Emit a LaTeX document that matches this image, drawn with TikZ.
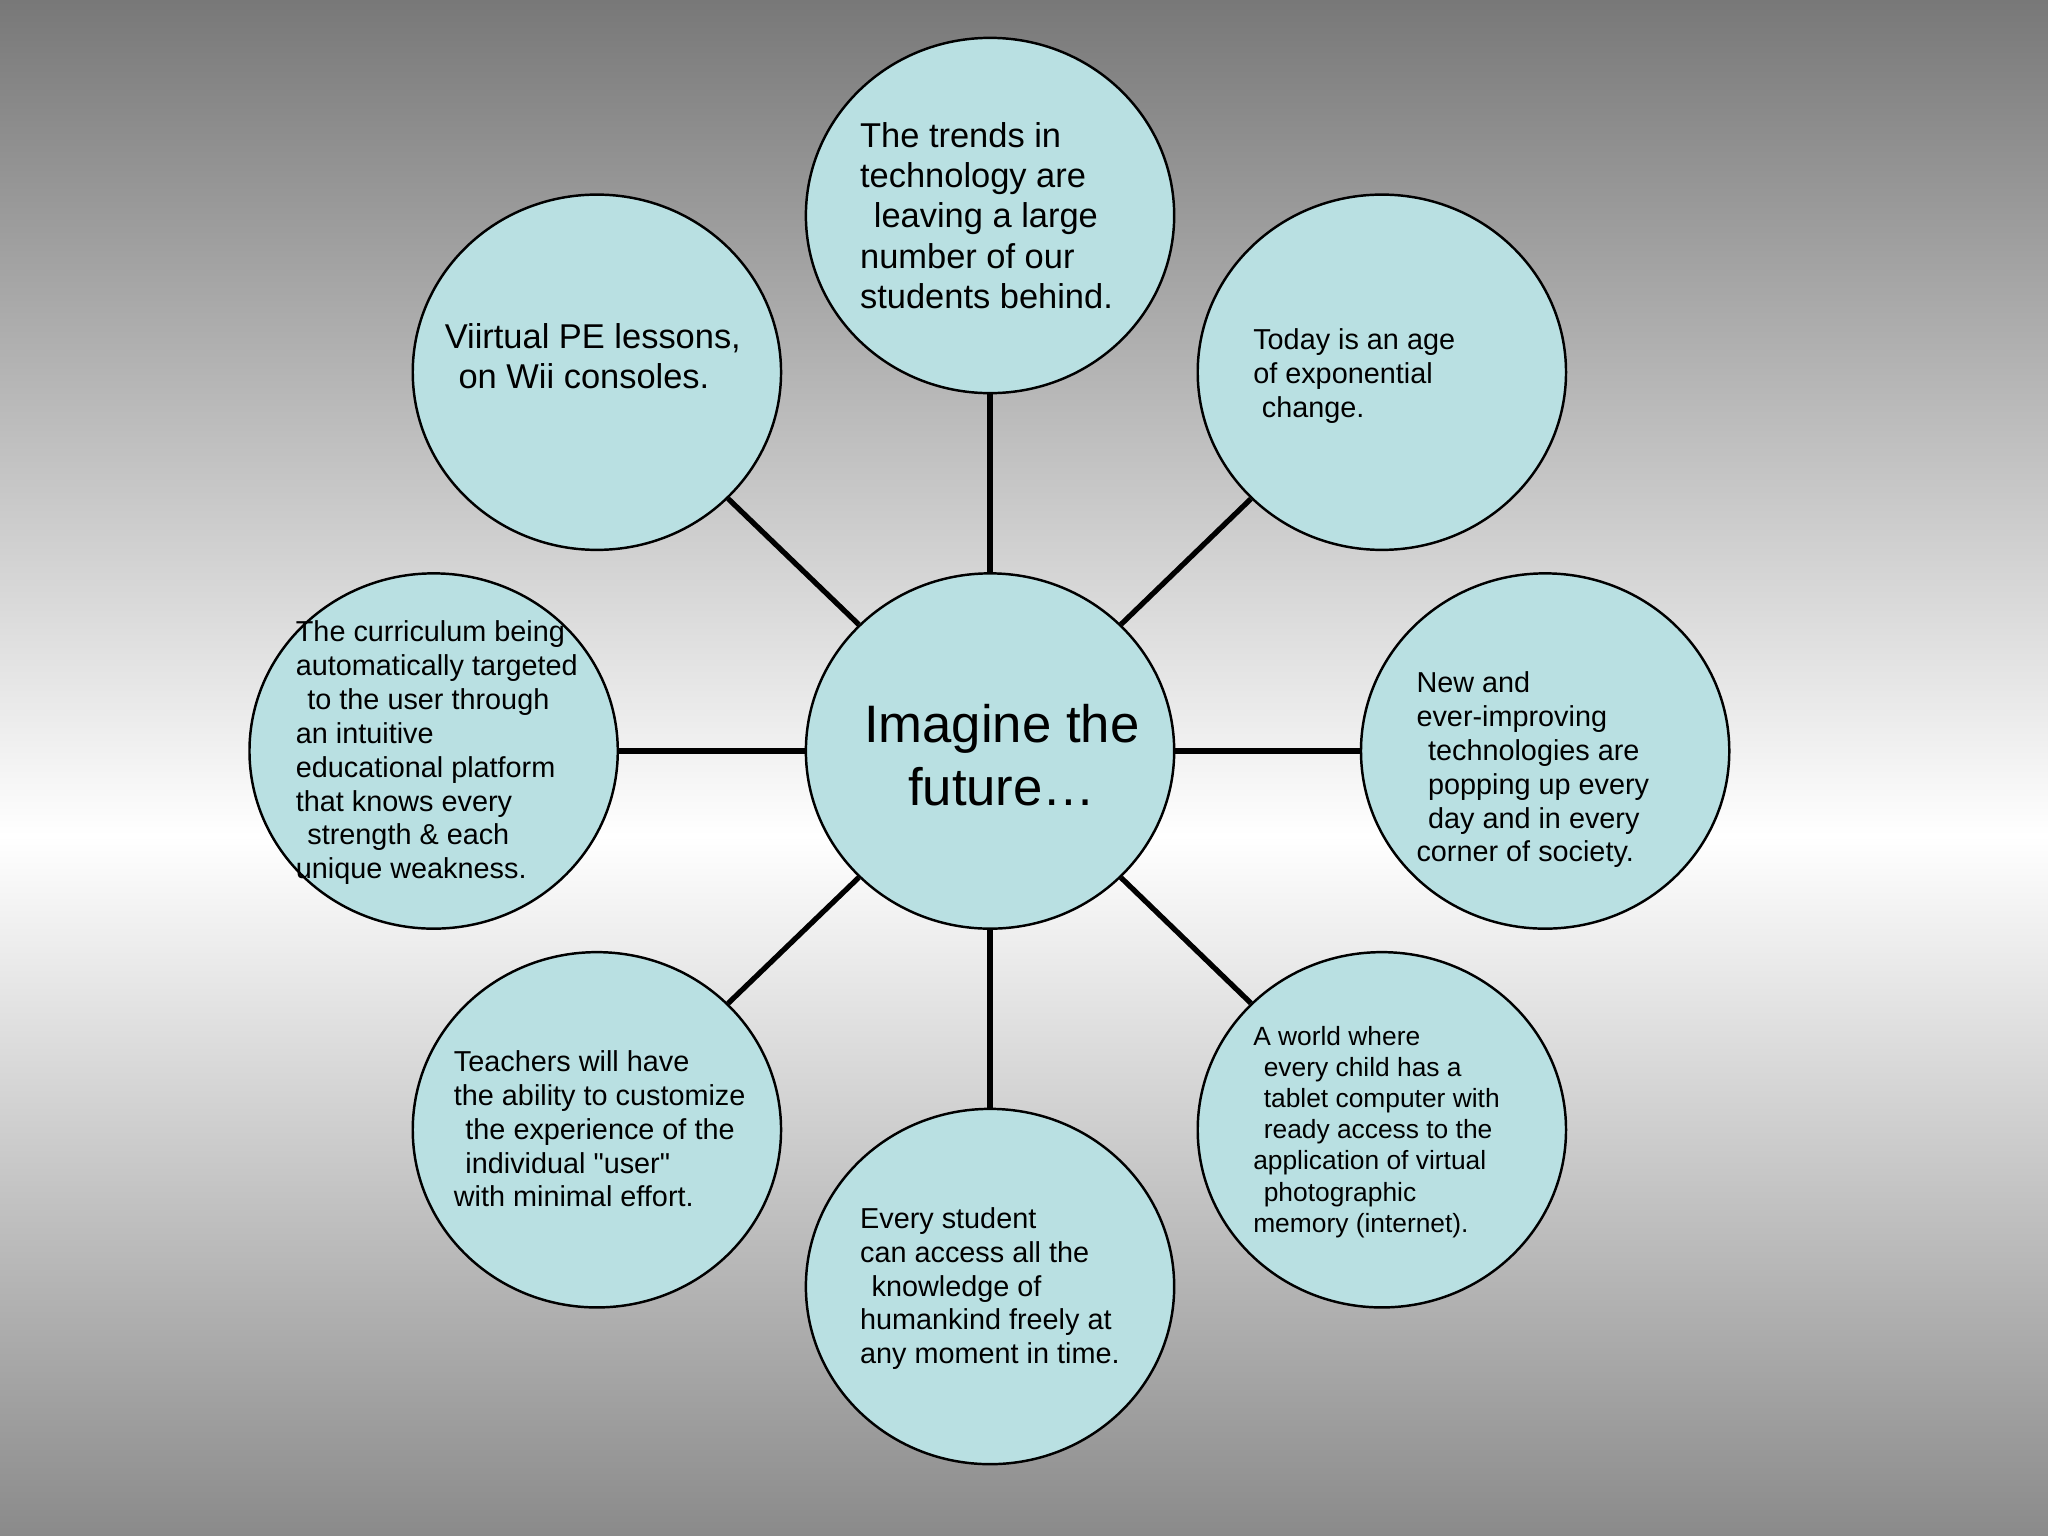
\documentclass[tikz,border=0pt]{standalone}
\usepackage{fontspec}
\setmainfont{Liberation Sans}
\usetikzlibrary{shapes.geometric}
\definecolor{bub}{RGB}{185,224,226}
\definecolor{topg}{RGB}{120,120,120}
\definecolor{botg}{RGB}{138,138,138}
\begin{document}
\begin{tikzpicture}[x=0.013061cm,y=-0.013061cm,
  bubble/.style={ellipse,draw=black,line width=0.7pt,fill=bub,inner sep=0,minimum width=3.683cm,minimum height=3.553cm},
  con/.style={line width=1.5pt,black},
  txt/.style={anchor=north west,align=left,inner sep=0},
  s/.style={font=\fontsize{8.2}{9.62}\selectfont},
  m/.style={font=\fontsize{9.8}{11.47}\selectfont},
  xs/.style={font=\fontsize{7.5}{8.88}\selectfont}]
\begin{scope}[x=1cm,y=1cm]
\fill[top color=topg,bottom color=white] (0,0) rectangle (20.48,-8.36);
\fill[top color=white,bottom color=botg] (0,-8.36) rectangle (20.48,-15.36);
\end{scope}
\useasboundingbox (0,0) rectangle (1568,1176);
\node[bubble] (c) at (758,575) {};
\node[bubble] (t) at (758,165) {};
\node[bubble] (tr) at (1058,285) {};
\node[bubble] (r) at (1183,575) {};
\node[bubble] (br) at (1058,865) {};
\node[bubble] (b) at (758,985) {};
\node[bubble] (bl) at (457,865) {};
\node[bubble] (l) at (332,575) {};
\node[bubble] (tl) at (457,285) {};
\foreach \n in {t,tr,r,br,b,bl,l,tl} \draw[con] (c) -- (\n);
\node[align=center,inner sep=0,font=\fontsize{15}{17.8}\selectfont] (ct) at (767,578) {Imagine the\\future\ldots};
\node[txt,m] (tt) at (658,93) {The trends in\\technology are\\\hspace*{0.4em}leaving a large\\number of our\\students behind.};
\node[txt,m] (tlt) at (340,247) {Viirtual PE lessons,\\\hspace*{0.4em}on Wii consoles.};
\node[txt,s] (trt) at (959,251) {Today is an age\\of exponential\\\hspace*{0.3em}change.};
\node[txt,s] (rt) at (1084,514) {New and\\ever-improving\\\hspace*{0.4em}technologies are\\\hspace*{0.4em}popping up every\\\hspace*{0.4em}day and in every\\corner of society.};
\node[txt,xs] (brt) at (959,785) {A world where\\\hspace*{0.4em}every child has a\\\hspace*{0.4em}tablet computer with\\\hspace*{0.4em}ready access to the\\application of virtual\\\hspace*{0.4em}photographic\\memory (internet).};
\node[txt,s] (bt) at (658,924) {Every student\\can access all the\\\hspace*{0.4em}knowledge of\\humankind freely at\\any moment in time.};
\node[txt,s] (blt) at (347,804) {Teachers will have\\the ability to customize\\\hspace*{0.4em}the experience of the\\\hspace*{0.4em}individual \textquotedbl user\textquotedbl\\with minimal effort.};
\node[txt,s] (lt) at (226,475) {The curriculum being\\automatically targeted\\\hspace*{0.4em}to the user through\\an intuitive\\educational platform\\that knows every\\\hspace*{0.4em}strength \& each\\unique weakness.};
\end{tikzpicture}
\end{document}
